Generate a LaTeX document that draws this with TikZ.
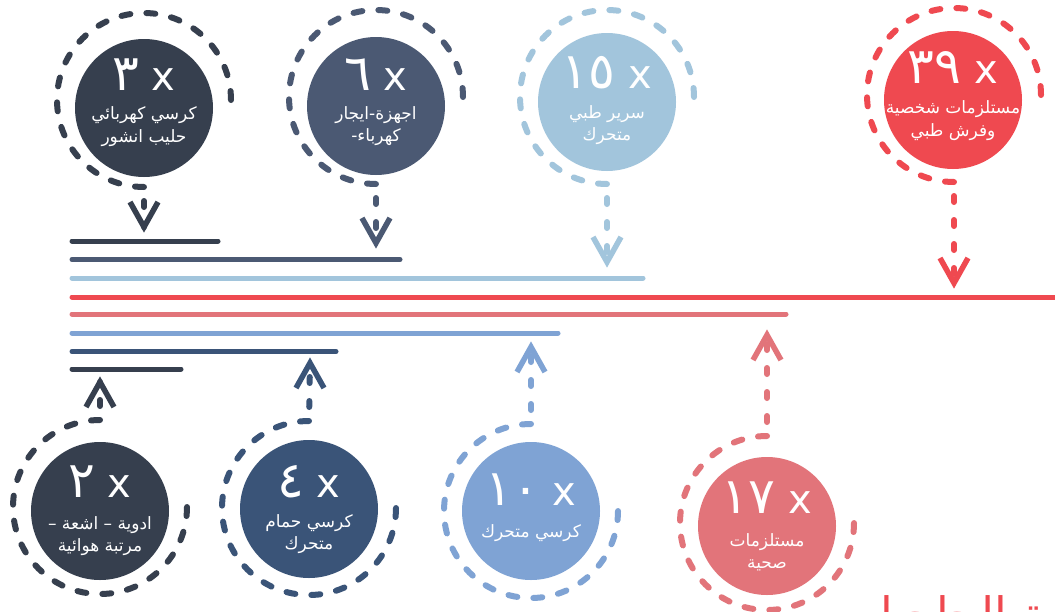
\documentclass[tikz,border=0pt]{standalone}
\usepackage{fontspec}
\setmainfont{DejaVu Sans}
\newfontfamily\arabicfont[Script=Arabic]{DejaVu Sans}
\TeXXeTstate=1
\usetikzlibrary{calc}
\definecolor{cA}{HTML}{363F4E}
\definecolor{cB}{HTML}{4B5973}
\definecolor{cC}{HTML}{A2C5DC}
\definecolor{cD}{HTML}{EF4950}
\definecolor{cE}{HTML}{3A5478}
\definecolor{cF}{HTML}{7FA3D4}
\definecolor{cG}{HTML}{E2747A}
\newcommand\myrtl[1]{\beginR #1\endR}
\newcommand\dg[1]{{\fontsize{50}{50}\selectfont #1}}
\tikzset{
 ring/.style={line width=6pt, line cap=round, dash pattern=on 9pt off 16.06pt},
 vdash/.style={line width=6pt, line cap=round, dash pattern=on 6pt off 18pt, dash phase=10pt},
 chev/.style={line width=5.5pt, line cap=butt, line join=miter},
 disk/.style={circle, fill=#1, minimum size=138pt, inner sep=0pt},
 bar/.style={line width=5pt, line cap=round},
 num/.style={text=white, font=\fontsize{40}{40}\selectfont, anchor=base, inner sep=0pt},
 lab/.style={text=white, font=\arabicfont\fontsize{17}{22.5}\selectfont, align=center, inner sep=0pt},
}
\begin{document}
\begin{tikzpicture}[x=1pt,y=-1pt]
\useasboundingbox (0,0) rectangle (1055,611);
\fill[white] (0,0) rectangle (1055,611);

% bars
\draw[bar,cA] (72,241) -- (218,241);
\draw[bar,cB] (72,259.5) -- (400,259.5);
\draw[bar,cC] (72,278) -- (643,278);
\draw[bar,cD] (72,297) -- (1058,297);
\draw[bar,cG] (72,314) -- (786,314);
\draw[bar,cF] (72,333) -- (558,333);
\draw[bar,cE] (72,351.5) -- (336,351.5);
\draw[bar,cA] (72,369) -- (181,369);

% ---- top circle 1
\coordinate (rc1) at (144,100);
\node[disk=cA] (d1) at (144,108) {};
\draw[ring,cA] ($(rc1)+(87,0)$) arc[start angle=0,end angle=-270,radius=87];
\coordinate (rb1) at ($(rc1)+(0,87)$);
\coordinate (tp1) at (144,227);
\draw[vdash,cA] (rb1) -- (tp1);
\draw[chev,cA] ($(tp1)+(-14,-25)$) -- (tp1) -- ($(tp1)+(14,-25)$);
\node[num] (n1) at (144,90) {\dg{٣} x};
\node[lab] (l1) at (144,126.5) {\myrtl{كرسي كهربائي}\\\myrtl{حليب انشور}};

% ---- top circle 2
\coordinate (rc2) at (376,97);
\node[disk=cB] (d2) at (376,106) {};
\draw[ring,cB] ($(rc2)+(87,0)$) arc[start angle=0,end angle=-270,radius=87];
\coordinate (rb2) at ($(rc2)+(0,87)$);
\coordinate (tp2) at (376,243);
\draw[vdash,cB] (rb2) -- (tp2);
\draw[chev,cB] ($(tp2)+(-14,-25)$) -- (tp2) -- ($(tp2)+(14,-25)$);
\node[num] (n2) at (376,90) {\dg{٦} x};
\node[lab] (l2) at (376,126) {\myrtl{اجهزة-ايجار}\\\myrtl{كهرباء-}};

% ---- top circle 3
\coordinate (rc3) at (607,97);
\node[disk=cC] (d3) at (607,102) {};
\draw[ring,cC] ($(rc3)+(87,0)$) arc[start angle=0,end angle=-270,radius=87];
\coordinate (rb3) at ($(rc3)+(0,87)$);
\coordinate (tp3) at (607,262);
\draw[vdash,cC] (rb3) -- (tp3);
\draw[chev,cC] ($(tp3)+(-14,-25)$) -- (tp3) -- ($(tp3)+(14,-25)$);
\node[num] (n3) at (607,88) {\dg{١٥} x};
\node[lab] (l3) at (607,125) {\myrtl{سرير طبي}\\\myrtl{متحرك}};

% ---- top circle 4
\coordinate (rc4) at (954,95);
\node[disk=cD] (d4) at (953,100) {};
\draw[ring,cD] ($(rc4)+(87,0)$) arc[start angle=0,end angle=-270,radius=87];
\coordinate (rb4) at ($(rc4)+(0,87)$);
\coordinate (tp4) at (954,283);
\draw[vdash,cD] (rb4) -- (tp4);
\draw[chev,cD] ($(tp4)+(-14,-25)$) -- (tp4) -- ($(tp4)+(14,-25)$);
\node[num] (n4) at (953,83) {\dg{٣٩} x};
\node[lab] (l4) at (953,120.5) {\myrtl{مستلزمات شخصية}\\\myrtl{وفرش طبي}};

% ---- bottom circle 5
\coordinate (rc5) at (100,507);
\node[disk=cA] (d5) at (100,511) {};
\draw[ring,cA] ($(rc5)+(0,-87)$) arc[start angle=270,end angle=0,radius=87];
\coordinate (rt5) at ($(rc5)+(0,-87)$);
\coordinate (tp5) at (100,382);
\draw[vdash,cA] (rt5) -- (tp5);
\draw[chev,cA] ($(tp5)+(-14,25)$) -- (tp5) -- ($(tp5)+(14,25)$);
\node[num] (n5) at (100,497) {\dg{٢} x};
\node[lab] (l5) at (100,536) {\myrtl{ادوية – اشعة –}\\\myrtl{مرتبة هوائية}};

% ---- bottom circle 6
\coordinate (rc6) at (309,508);
\node[disk=cE] (d6) at (309,509) {};
\draw[ring,cE] ($(rc6)+(0,-87)$) arc[start angle=270,end angle=0,radius=87];
\coordinate (rt6) at ($(rc6)+(0,-87)$);
\coordinate (tp6) at (310,363);
\draw[vdash,cE] (rt6) -- (tp6);
\draw[chev,cE] ($(tp6)+(-14,25)$) -- (tp6) -- ($(tp6)+(14,25)$);
\node[num] (n6) at (309,497) {\dg{٤} x};
\node[lab] (l6) at (309,534) {\myrtl{كرسي حمام}\\\myrtl{متحرك}};

% ---- bottom circle 7
\coordinate (rc7) at (531,511);
\node[disk=cF] (d7) at (531,511) {};
\draw[ring,cF] ($(rc7)+(0,-87)$) arc[start angle=270,end angle=0,radius=87];
\coordinate (rt7) at ($(rc7)+(0,-87)$);
\coordinate (tp7) at (531,347);
\draw[vdash,cF] (rt7) -- (tp7);
\draw[chev,cF] ($(tp7)+(-14,25)$) -- (tp7) -- ($(tp7)+(14,25)$);
\node[num] (n7) at (531,505) {\dg{١٠} x};
\node[lab] (l7) at (531,533) {\myrtl{كرسي متحرك}};

% ---- bottom circle 8
\coordinate (rc8) at (767,523);
\node[disk=cG] (d8) at (767,526) {};
\draw[ring,cG] ($(rc8)+(0,-87)$) arc[start angle=270,end angle=0,radius=87];
\coordinate (rt8) at ($(rc8)+(0,-87)$);
\coordinate (tp8) at (767,335);
\draw[vdash,cG] (rt8) -- (tp8);
\draw[chev,cG] ($(tp8)+(-14,25)$) -- (tp8) -- ($(tp8)+(14,25)$);
\node[num] (n8) at (767,513) {\dg{١٧} x};
\node[lab] (l8) at (767,552.5) {\myrtl{مستلزمات}\\\myrtl{صحية}};

% ---- cropped title
\node[font=\arabicfont\fontsize{46}{46}\selectfont, text=cD, anchor=base east, inner sep=0pt] (ttl) at (1122,630) {\myrtl{قائمة الحاجيات}};
\end{tikzpicture}
\end{document}
